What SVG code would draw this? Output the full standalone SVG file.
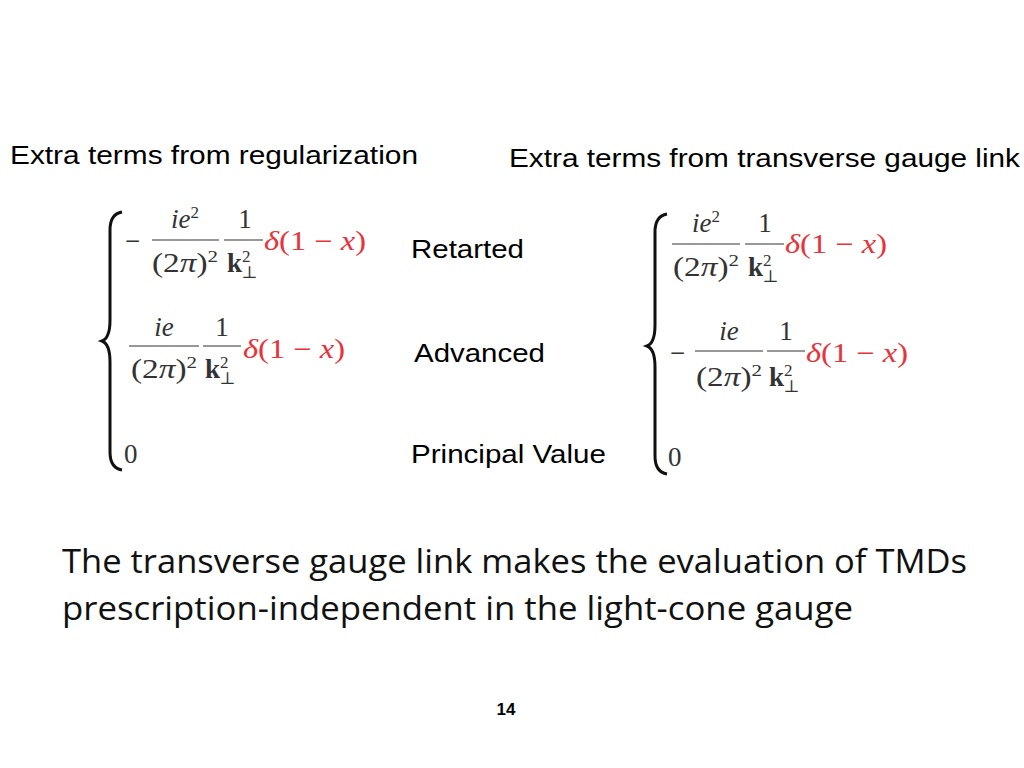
<svg xmlns="http://www.w3.org/2000/svg" width="1024" height="768" viewBox="0 0 1024 768">
<style>
.h{font-family:"Liberation Sans",Arial,sans-serif;font-size:26px;fill:#000}
.m{font-family:"Liberation Serif","DejaVu Serif",serif;font-size:27px;fill:#333}
.i{font-style:italic}
.r{fill:#e8333a}
.b{font-weight:bold}
.s{font-size:17px}
.f{stroke:#333;stroke-width:1.2}
.br{fill:none;stroke:#111;stroke-width:3}
.big{font-family:"Open Sans","Noto Sans",sans-serif;font-size:33px;fill:#111}
</style>
<rect width="1024" height="768" fill="#fff"/>
<text class="h" x="10" y="164" textLength="408" lengthAdjust="spacingAndGlyphs">Extra terms from regularization</text>
<text class="h" x="509" y="167" textLength="511" lengthAdjust="spacingAndGlyphs">Extra terms from transverse gauge link</text>
<text class="h" x="411" y="258" textLength="113" lengthAdjust="spacingAndGlyphs">Retarted</text>
<text class="h" x="414" y="362" textLength="131" lengthAdjust="spacingAndGlyphs">Advanced</text>
<text class="h" x="411" y="463" textLength="195" lengthAdjust="spacingAndGlyphs">Principal Value</text>

<g id="left">
<path class="br" d="M122,212 Q110,214 110,230 L110,320 Q110,338 102,341 Q110,344 110,362 L110,452 Q110,468 122,470"/>
<text class="m" x="125" y="250">−</text>
<text class="m" x="185" y="228" text-anchor="middle"><tspan class="i">ie</tspan><tspan class="s" dy="-10">2</tspan></text>
<line class="f" x1="152" y1="240" x2="219" y2="240"/>
<text class="m" x="152" y="272" textLength="66" lengthAdjust="spacingAndGlyphs">(2<tspan class="i">π</tspan>)<tspan class="s" dy="-10">2</tspan></text>
<text class="m" x="245" y="228" text-anchor="middle">1</text>
<line class="f" x1="224" y1="240" x2="263" y2="240"/>
<text class="m b" x="227" y="272">k<tspan class="s" dy="-10" font-weight="normal">2</tspan><tspan class="s" dx="-9" dy="16" font-weight="normal">⊥</tspan></text>
<text class="m r" x="264" y="250" textLength="102" lengthAdjust="spacingAndGlyphs"><tspan class="i">δ</tspan>(1 − <tspan class="i">x</tspan>)</text>

<text class="m" x="164" y="336" text-anchor="middle" font-style="italic">ie</text>
<line class="f" x1="129" y1="346" x2="199" y2="346"/>
<text class="m" x="131" y="378" textLength="66" lengthAdjust="spacingAndGlyphs">(2<tspan class="i">π</tspan>)<tspan class="s" dy="-10">2</tspan></text>
<text class="m" x="222" y="336" text-anchor="middle">1</text>
<line class="f" x1="203" y1="346" x2="241" y2="346"/>
<text class="m b" x="205" y="378">k<tspan class="s" dy="-10" font-weight="normal">2</tspan><tspan class="s" dx="-9" dy="16" font-weight="normal">⊥</tspan></text>
<text class="m r" x="243" y="358" textLength="102" lengthAdjust="spacingAndGlyphs"><tspan class="i">δ</tspan>(1 − <tspan class="i">x</tspan>)</text>
<text class="m" x="124" y="463">0</text>
</g>

<g id="right">
<path class="br" d="M667,214 Q655,216 655,232 L655,325 Q655,343 647,346 Q655,349 655,367 L655,456 Q655,472 667,474"/>
<text class="m" x="706" y="232" text-anchor="middle"><tspan class="i">ie</tspan><tspan class="s" dy="-10">2</tspan></text>
<line class="f" x1="672" y1="244" x2="740" y2="244"/>
<text class="m" x="673" y="276" textLength="66" lengthAdjust="spacingAndGlyphs">(2<tspan class="i">π</tspan>)<tspan class="s" dy="-10">2</tspan></text>
<text class="m" x="765" y="232" text-anchor="middle">1</text>
<line class="f" x1="745" y1="244" x2="784" y2="244"/>
<text class="m b" x="748" y="276">k<tspan class="s" dy="-10" font-weight="normal">2</tspan><tspan class="s" dx="-9" dy="16" font-weight="normal">⊥</tspan></text>
<text class="m r" x="785" y="253" textLength="102" lengthAdjust="spacingAndGlyphs"><tspan class="i">δ</tspan>(1 − <tspan class="i">x</tspan>)</text>

<text class="m" x="670" y="362">−</text>
<text class="m" x="729" y="340" text-anchor="middle" font-style="italic">ie</text>
<line class="f" x1="695" y1="351" x2="763" y2="351"/>
<text class="m" x="696" y="386" textLength="66" lengthAdjust="spacingAndGlyphs">(2<tspan class="i">π</tspan>)<tspan class="s" dy="-10">2</tspan></text>
<text class="m" x="786" y="340" text-anchor="middle">1</text>
<line class="f" x1="767" y1="351" x2="805" y2="351"/>
<text class="m b" x="769" y="386">k<tspan class="s" dy="-10" font-weight="normal">2</tspan><tspan class="s" dx="-9" dy="16" font-weight="normal">⊥</tspan></text>
<text class="m r" x="806" y="362" textLength="102" lengthAdjust="spacingAndGlyphs"><tspan class="i">δ</tspan>(1 − <tspan class="i">x</tspan>)</text>
<text class="m" x="668" y="466">0</text>
</g>

<text class="big" x="62" y="573" textLength="905" lengthAdjust="spacingAndGlyphs">The transverse gauge link makes the evaluation of TMDs</text>
<text class="big" x="62" y="620" textLength="791" lengthAdjust="spacingAndGlyphs">prescription-independent in the light-cone gauge</text>
<text x="506" y="715" text-anchor="middle" font-family="Liberation Sans,Arial,sans-serif" font-size="17" font-weight="bold">14</text>
</svg>
